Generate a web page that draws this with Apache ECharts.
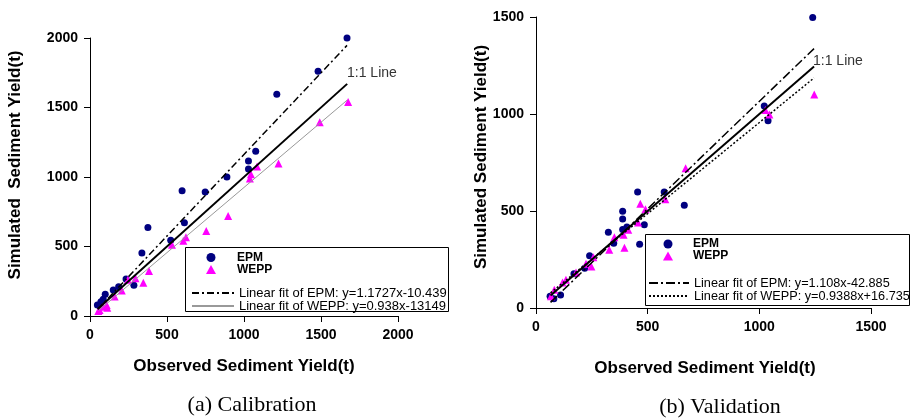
<!DOCTYPE html>
<html>
<head>
<meta charset="utf-8">
<script src="https://cdn.jsdelivr.net/npm/echarts@6/dist/echarts.min.js"></script>
<style>
  html, body { margin: 0; padding: 0; background: #fff; }
  #chart { width: 912px; height: 420px; }
</style>
</head>
<body>
<div id="chart"></div>
<script>
// calibration panel: [observed, simulated]
const calEpm = [[48, 79], [71, 103], [86, 120], [99, 156], [151, 187], [186, 211], [234, 266], [285, 222],
  [337, 454], [376, 637], [524, 545], [598, 901], [613, 670], [748, 892], [889, 1000], [1029, 1115],
  [1029, 1058], [1076, 1186], [1213, 1595], [1481, 1760], [1669, 2000]];
const calWepp = [[54, 36], [62, 43], [86, 67], [108, 79], [112, 60], [160, 141], [206, 183], [246, 261],
  [295, 271], [346, 240], [383, 323], [532, 513], [606, 541], [623, 566], [755, 612], [897, 719],
  [1038, 990], [1045, 1020], [1085, 1075], [1224, 1097], [1492, 1394], [1676, 1540]];
const calEpmFit = [[50, 48], [1669, 1947]];
const calWeppFit = [[55, 39], [1669, 1552]];
const calOneToOne = [[50, 50], [1670, 1670]];

// validation panel
const valEpm = [[63, 60], [80, 48], [110, 67], [170, 177], [218, 205], [240, 269], [324, 391], [348, 334],
  [388, 499], [388, 459], [388, 405], [407, 417], [455, 598], [464, 329], [485, 429], [574, 598],
  [664, 530], [1022, 1041], [1039, 965], [1239, 1497]];
const valWepp = [[67, 60], [82, 94], [119, 132], [134, 146], [179, 183], [224, 228], [248, 214], [257, 261],
  [328, 300], [351, 365], [392, 378], [396, 310], [413, 403], [457, 441], [467, 537], [490, 509],
  [579, 561], [670, 720], [1027, 1020], [1045, 998], [1246, 1101]];
const valEpmFit = [[65, 29], [1245, 1337]];
const valWeppFit = [[65, 78], [1245, 1186]];
const valOneToOne = [[65, 65], [1245, 1245]];

const calEpmName = "Linear fit of EPM: y=1.1727x-10.439";
const calWeppName = "Linear fit of WEPP: y=0.938x-13149";
const valEpmName = "Linear fit of EPM: y=1.108x-42.885";
const valWeppName = "Linear fit of WEPP: y=0.9388x+16.735";

const FONT = "'Liberation Sans', Arial, sans-serif";
const SERIF = "'Liberation Serif', 'Times New Roman', serif";

function axis(gridIndex, max) {
  return {
    gridIndex: gridIndex,
    type: "value",
    min: 0,
    max: max,
    interval: 500,
    splitLine: { show: false },
    axisLine: { show: true, lineStyle: { color: "#000", width: 1 } },
    axisTick: { show: true, length: 6, lineStyle: { color: "#000" } },
    axisLabel: {
      color: "#000", fontFamily: FONT, fontWeight: "bold", fontSize: 14, margin: 12,
      formatter: (v) => String(v),
    },
  };
}

function scatterLegend(left, top, lh, pad) {
  return {
    data: ["EPM", "WEPP"],
    orient: "vertical",
    left: left,
    top: top,
    padding: 0,
    itemGap: 0,
    itemWidth: 10,
    itemHeight: 9,
    selectedMode: false,
    z: 10,
    textStyle: {
      fontFamily: FONT, fontWeight: "bold", fontSize: 12, color: "#000",
      lineHeight: lh, padding: [0, 0, 0, pad],
    },
  };
}

function lineLegend(names, left, top, width, size) {
  return {
    data: names,
    orient: "vertical",
    left: left,
    top: top,
    padding: 0,
    itemGap: 0,
    itemWidth: width,
    itemHeight: 8,
    selectedMode: false,
    z: 10,
    itemStyle: { opacity: 0 },
    textStyle: { fontFamily: FONT, fontSize: size, color: "#000", lineHeight: 11 },
  };
}

function lineSeries(name, data, idx, style) {
  return {
    name: name,
    type: "line",
    xAxisIndex: idx,
    yAxisIndex: idx,
    data: data,
    symbol: "none",
    silent: true,
    itemStyle: { color: style.color },
    lineStyle: style,
    z: 3,
  };
}

function scatterSeries(name, data, idx, isEpm) {
  return {
    name: name,
    type: "scatter",
    xAxisIndex: idx,
    yAxisIndex: idx,
    data: data,
    symbol: isEpm ? "circle" : "triangle",
    symbolSize: isEpm ? 7 : 8,
    itemStyle: { color: isEpm ? "#000080" : "#ff00ff", opacity: 1 },
    z: 2,
  };
}

function text(x, y, str, font, rotate, align) {
  return {
    type: "text",
    x: x,
    y: y,
    rotation: rotate ? Math.PI / 2 : 0,
    style: { text: str, font: font, fill: "#000", textAlign: align || "center", textVerticalAlign: "middle" },
  };
}

const chart = echarts.init(document.getElementById("chart"));
chart.setOption({
  backgroundColor: "#fff",
  animation: false,
  grid: [
    { left: 90, top: 38, width: 308, height: 278 },
    { left: 536, top: 17, width: 335, height: 291 },
  ],
  xAxis: [axis(0, 2000), axis(1, 1500)],
  yAxis: [axis(0, 2000), axis(1, 1500)],
  legend: [
    scatterLegend(206, 251.5, 11, 16),
    lineLegend([calEpmName, calWeppName], 191, 286.5, 42, 13),
    scatterLegend(663, 238, 12, 15),
    lineLegend([valEpmName, valWeppName], 648, 276.5, 40, 12.7),
  ],
  graphic: {
    z: 1,
    elements: [
      { type: "rect", shape: { x: 185.5, y: 247.5, width: 263, height: 64 }, style: { fill: "#fff", stroke: "#000", lineWidth: 1 } },
      { type: "rect", shape: { x: 645.5, y: 234.5, width: 264, height: 71 }, style: { fill: "#fff", stroke: "#000", lineWidth: 1 } },
      text(15, 165, "Simulated  Sediment Yield(t)", "bold 17px " + FONT, true),
      text(481, 157, "Simulated Sediment Yield(t)", "bold 17px " + FONT, true),
      text(244, 366, "Observed Sediment Yield(t)", "bold 17px " + FONT),
      text(705, 368, "Observed Sediment Yield(t)", "bold 17px " + FONT),
      text(252, 405, "(a) Calibration", "22px " + SERIF),
      text(720, 407, "(b) Validation", "22px " + SERIF),
      { type: "text", x: 347, y: 73, style: { text: "1:1 Line", font: "14px " + FONT, fill: "#333", textVerticalAlign: "middle" } },
      { type: "text", x: 813, y: 61, style: { text: "1:1 Line", font: "14px " + FONT, fill: "#333", textVerticalAlign: "middle" } },
    ],
  },
  series: [
    scatterSeries("EPM", calEpm, 0, true),
    scatterSeries("WEPP", calWepp, 0, false),
    lineSeries(calEpmName, calEpmFit, 0, { color: "#000", width: 1.5, type: [7, 3, 2, 3] }),
    lineSeries(calWeppName, calWeppFit, 0, { color: "#999", width: 1, type: "solid" }),
    lineSeries("1:1 Line (a)", calOneToOne, 0, { color: "#000", width: 2, type: "solid" }),
    scatterSeries("EPM", valEpm, 1, true),
    scatterSeries("WEPP", valWepp, 1, false),
    lineSeries(valEpmName, valEpmFit, 1, { color: "#000", width: 1.5, type: [9, 3, 2, 3] }),
    lineSeries(valWeppName, valWeppFit, 1, { color: "#000", width: 1.5, type: [2, 2] }),
    lineSeries("1:1 Line (b)", valOneToOne, 1, { color: "#000", width: 2, type: "solid" }),
  ],
});
</script>
</body>
</html>
